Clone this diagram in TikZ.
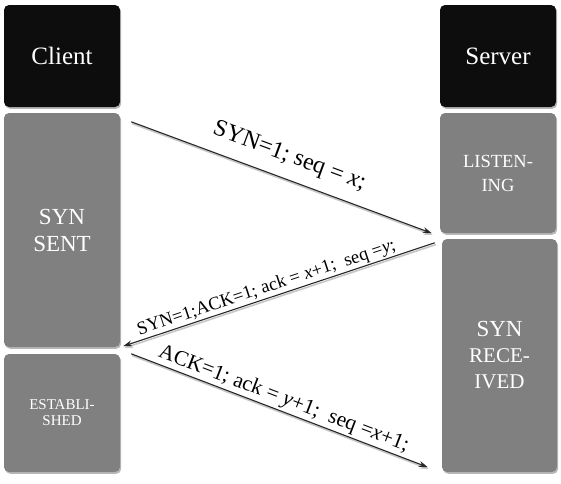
\documentclass[tikz,border=0pt]{standalone}
\usepackage{fontspec}
\setmainfont{Liberation Serif}
\usetikzlibrary{arrows.meta,shadows,calc}
\tikzset{
  boxbase/.style={rounded corners=5pt, draw=none, text=white, align=center, inner sep=0pt,
    drop shadow={shadow xshift=1.2pt, shadow yshift=-1.8pt, fill=black, opacity=0.28}},
  headbox/.style={boxbase, fill=black!95, font=\fontsize{25}{29}\selectfont},
  statebox/.style={boxbase, fill=black!50},
  msgline/.style={line width=1.1pt, -{Stealth[length=9pt,width=6pt]}, black!85},
  msgshadow/.style={line width=1.6pt, -{Stealth[length=9pt,width=6pt]}, black!22, transform canvas={xshift=1pt,yshift=-1.8pt}},
  msglabel/.style={sloped, inner sep=0pt, text=black}
}
\begin{document}
\begin{tikzpicture}[x=1pt,y=-1pt]
% left column
\node[headbox, minimum width=116pt, minimum height=102pt] (client) at (62,56) {Client};
\node[statebox, minimum width=116pt, minimum height=234pt, font=\fontsize{23}{27}\selectfont] (synsent) at (62,230) {SYN\\SENT};
\node[statebox, minimum width=116pt, minimum height=118pt, font=\fontsize{15}{16}\selectfont] (estab) at (62,413) {ESTABLI-\\SHED};
% right column
\node[headbox, minimum width=116pt, minimum height=102pt] (server) at (498,56) {Server};
\node[statebox, minimum width=116pt, minimum height=120pt, font=\fontsize{18.5}{24}\selectfont] (listen) at (498,173) {LISTEN-\\ING};
\node[statebox, minimum width=115pt, minimum height=233pt, font=\fontsize{21}{26}\selectfont] (synrec) at (499.5,355.5)
  {{\fontsize{23}{26}\selectfont SYN}\\RECE-\\IVED};
% connector end points
\coordinate (m1s) at ($(synsent.north east)+(11pt,-9pt)$);
\coordinate (m1e) at ($(listen.south west)+(-8pt,0pt)$);
\coordinate (m2s) at ($(synrec.north west)+(-7pt,-4pt)$);
\coordinate (m2e) at ($(synsent.south east)+(3pt,1pt)$);
\coordinate (m3s) at ($(estab.north east)+(11pt,0pt)$);
\coordinate (m3e) at ($(synrec.south west)+(-14pt,5pt)$);
% shadows of the connectors
\draw[msgshadow] (m1s) -- (m1e);
\draw[msgshadow] (m2s) -- (m2e);
\draw[msgshadow] (m3s) -- (m3e);
% connectors
\draw[msgline] (m1s) -- (m1e)
  node[msglabel, pos=0.5, yshift=22pt, font=\fontsize{24}{28}\selectfont] (l1) {SYN=1; seq = \textit{x};};
\draw[msgline] (m2s) -- (m2e)
  node[msglabel, pos=0.53, yshift=10pt, font=\fontsize{18.5}{22}\selectfont] (l2) {SYN=1;ACK=1; ack = \textit{x}+1;\ \ seq =\textit{y};};
\draw[msgline] (m3s) -- (m3e)
  node[msglabel, pos=0.5, yshift=12pt, font=\fontsize{21.5}{25}\selectfont] (l3) {ACK=1; ack = \textit{y}+1;\ \ seq =\textit{x}+1;};
\pgfresetboundingbox
\path[use as bounding box] (0,0) rectangle (561,483);
\end{tikzpicture}
\end{document}
